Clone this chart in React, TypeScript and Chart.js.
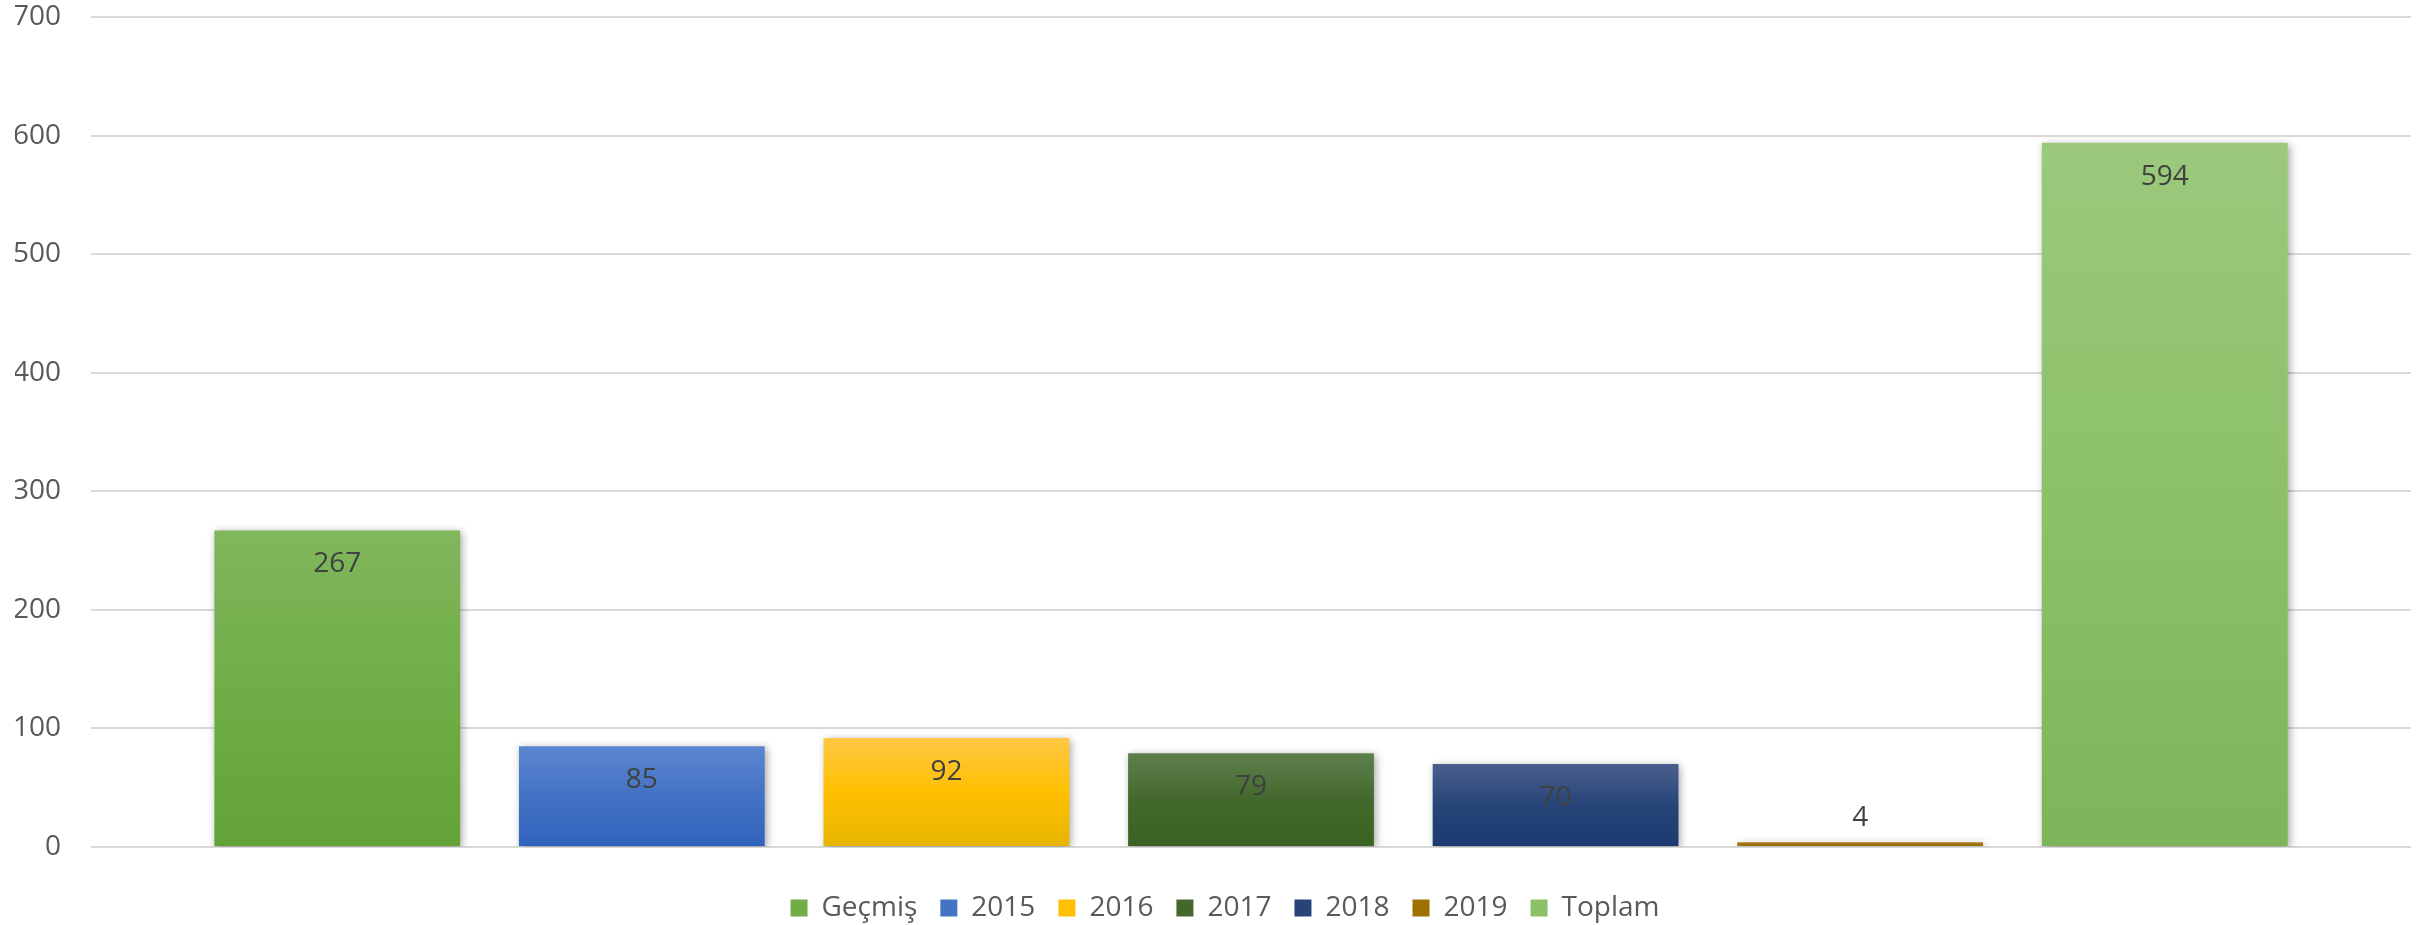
import React, { useEffect, useRef } from "react";
import { Chart, registerables } from "chart.js";

Chart.register(...registerables);

const seriesNames = ["Geçmiş", "2015", "2016", "2017", "2018", "2019", "Toplam"];
const seriesValues = [267, 85, 92, 79, 70, 4, 594];
const yTicks = [0, 100, 200, 300, 400, 500, 600, 700];
// [top, middle, bottom] colours of each bar's gradient
const seriesColors = [
  ["#80B75C", "#70AD47", "#62A337"],
  ["#5B86D1", "#4472C4", "#2F64BC"],
  ["#FFC845", "#FFC000", "#E6B400"],
  ["#5E804E", "#43682B", "#3A6223"],
  ["#4B5F8E", "#264478", "#1D3A70"],
  ["#A98136", "#9E7000", "#986C00"],
  ["#9CC97D", "#8CC168", "#7DB55A"],
];

const FONT = "'Open Sans', 'DejaVu Sans', sans-serif";

export default function App() {
  const ref = useRef<HTMLCanvasElement | null>(null);

  useEffect(() => {
    document.body.style.margin = "0";
    const canvas = ref.current!;

    const shadowPlugin = {
      id: "barShadow",
      beforeDatasetsDraw(chart: any) {
        const ctx = chart.ctx;
        ctx.save();
        ctx.shadowColor = "rgba(0,0,0,0.35)";
        ctx.shadowBlur = 8;
        ctx.shadowOffsetX = 2;
        ctx.shadowOffsetY = 2;
      },
      afterDatasetsDraw(chart: any) {
        const ctx = chart.ctx;
        ctx.restore();
        ctx.save();
        ctx.font = `28px ${FONT}`;
        ctx.fillStyle = "#404040";
        ctx.textAlign = "center";
        ctx.textBaseline = "middle";
        chart.data.datasets.forEach((ds: any, i: number) => {
          const meta = chart.getDatasetMeta(i);
          meta.data.forEach((el: any, j: number) => {
            const v = ds.data[j];
            const h = el.base - el.y;
            const y = h > 60 ? el.y + 34 : el.y - 24;
            ctx.fillText(String(v), el.x, y);
          });
        });
        ctx.restore();
      },
    };

    const chart = new Chart(canvas, {
      type: "bar",
      data: {
        labels: [""],
        datasets: seriesNames.map((name, i) => ({
          label: name,
          data: [seriesValues[i]],
          backgroundColor: (c: any) => {
            const cols = seriesColors[i];
            const chartObj = c.chart;
            const ys = chartObj.scales && chartObj.scales.y;
            if (!chartObj.chartArea || !ys) return cols[1];
            const top = ys.getPixelForValue(seriesValues[i]);
            const bottom = ys.getPixelForValue(0);
            if (!isFinite(top) || !isFinite(bottom) || bottom - top < 1) return cols[1];
            const g = chartObj.ctx.createLinearGradient(0, top, 0, bottom);
            g.addColorStop(0, cols[0]);
            g.addColorStop(0.5, cols[1]);
            g.addColorStop(1, cols[2]);
            return g;
          },
          borderWidth: 0,
          barPercentage: 0.807,
          categoryPercentage: 0.919,
        })),
      },
      options: {
        responsive: false,
        animation: false,
        layout: { padding: { left: 15, right: 0, top: 0, bottom: -7 } },
        scales: {
          x: {
            display: true,
            grid: { display: false, drawTicks: false },
            border: { display: false },
            ticks: { display: false },
            afterFit: (axis: any) => {
              axis.height = 24;
            },
          },
          y: {
            min: 0,
            max: 700,
            afterBuildTicks: (axis: any) => {
              axis.ticks = yTicks.map((v) => ({ value: v }));
            },
            afterFit: (axis: any) => {
              axis.width = 76;
              axis.paddingTop = 17;
              axis.paddingBottom = 0;
            },
            border: { display: false },
            grid: { color: "#D9D9D9", lineWidth: 2, drawTicks: false },
            ticks: {
              padding: 30,
              color: "#595959",
              font: { family: FONT, size: 28 },
            },
          },
          yRight: {
            position: "right",
            display: true,
            grid: { display: false, drawTicks: false },
            border: { display: false },
            ticks: { display: false },
            afterFit: (axis: any) => {
              axis.width = 24;
              axis.paddingTop = 0;
              axis.paddingBottom = 0;
            },
          },
        },
        plugins: {
          tooltip: { enabled: false },
          legend: {
            position: "bottom",
            labels: {
              boxWidth: 17,
              boxHeight: 17,
              padding: 23,
              color: "#595959",
              font: { family: FONT, size: 28 },
              generateLabels: () =>
                seriesNames.map((name, i) => ({
                  text: name,
                  fillStyle: seriesColors[i][1],
                  strokeStyle: seriesColors[i][1],
                  lineWidth: 0,
                  hidden: false,
                  datasetIndex: i,
                  fontColor: "#595959",
                })),
            },
          },
        },
      },
      plugins: [shadowPlugin],
    } as any);

    return () => chart.destroy();
  }, []);

  return <canvas ref={ref} width={2435} height={925} style={{ display: "block" }} />;
}
